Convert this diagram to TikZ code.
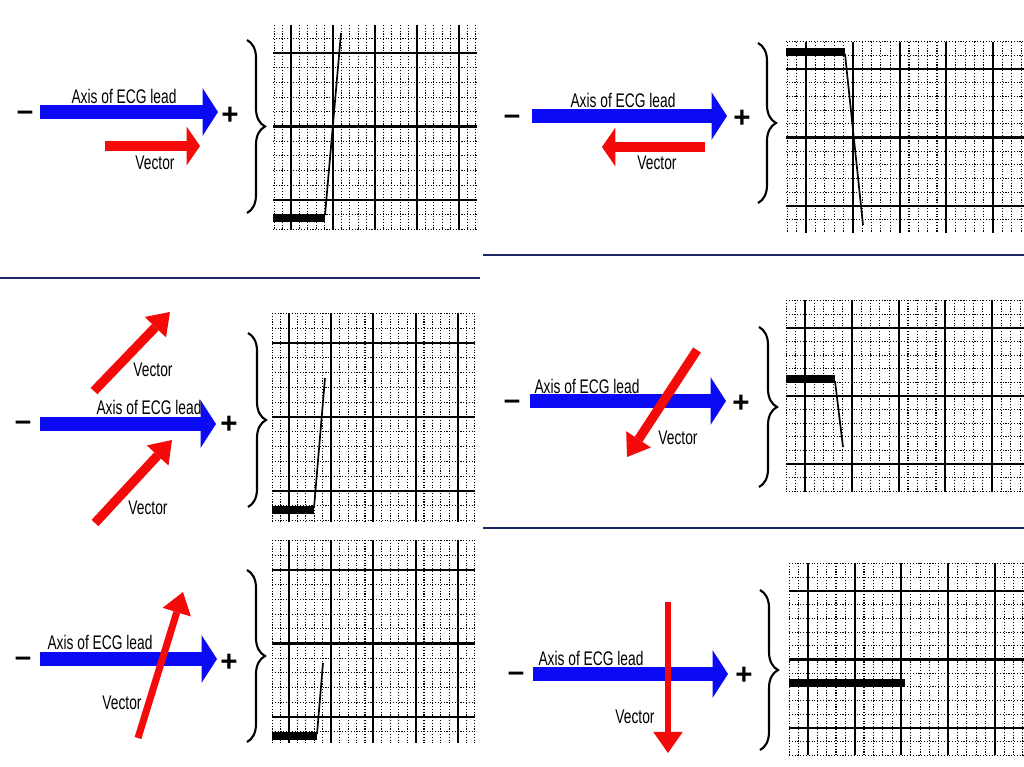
\documentclass[tikz,border=0pt]{standalone}
\usepackage{fontspec}
\setmainfont[FakeStretch=0.7]{Liberation Sans}
\newfontfamily\signfont{Liberation Sans}
\usetikzlibrary{arrows.meta,decorations.pathreplacing}
\definecolor{leadblue}{RGB}{10,10,245}
\definecolor{vecred}{RGB}{245,10,10}
\definecolor{rulenavy}{RGB}{28,38,100}

% ECG paper: left, top, right, bottom, first major x, first major y, major step x, major step y
\newcommand\ecggrid[8]{%
  \begin{scope}
    \clip (#1,#2) rectangle (#3,#4);
    \foreach \k in {-5,...,30}
      \draw[minorline] ({#5+\k*#7/5},#2) -- ({#5+\k*#7/5},#4);
    \foreach \k in {-5,...,20}
      \draw[minorline] (#1,{#6+\k*#8/5}) -- (#3,{#6+\k*#8/5});
    \foreach \k in {-1,...,6}
      \draw[majorline] ({#5+\k*#7},#2) -- ({#5+\k*#7},#4);
    \foreach \k in {-1,...,3}
      \draw[majorline] (#1,{#6+\k*#8}) -- (#3,{#6+\k*#8});
  \end{scope}}

\begin{document}
\begin{tikzpicture}[x=0.025cm,y=-0.025cm,
    lbl/.style={font=\fontsize{14}{15}\selectfont,inner sep=0pt},
    sign/.style={font=\signfont\bfseries\fontsize{21}{21}\selectfont,inner sep=0pt},
    leadarrow/.style={leadblue,line width=10.5pt,
      -{Triangle[length=11pt,width=34pt,line width=0pt]}},
    vecarrow/.style={vecred,line width=7.8pt,
      -{Triangle[length=9.5pt,width=27.6pt,line width=0pt]}},
    tiltarrow/.style={vecred,line width=6.6pt,
      -{Triangle[length=15pt,width=21pt,line width=0pt]}},
    ecgbrace/.style={decorate,decoration={brace,amplitude=12.8pt},line width=1.5pt},
    minorline/.style={line width=0.8pt,dash pattern=on 0.8pt off 1.2pt},
    majorline/.style={line width=1.5pt},
    flatbar/.style={line width=5.5pt},
    trace/.style={line width=1.2pt},
    divider/.style={rulenavy,line width=2.1pt}]
  \path[use as bounding box,fill=white] (0,0) rectangle (1024,767);

  \ecggrid{273}{25}{477}{230}{291}{53}{42}{73.5}
  \draw[leadarrow] (40,112) -- (218,112);
  \node[lbl] (axis1) at (124,96) {Axis of ECG lead};
  \node[sign] (minus1) at (25,116) {–};
  \node[sign] (plus1) at (230,116) {+};
  \draw[vecarrow] (105,146) -- (200,146);
  \node[lbl] (vec1) at (155,163) {Vector};
  \draw[ecgbrace] (247,40) -- (247,213);
  \draw[flatbar] (273,218) -- (325,218);
  \draw[trace] (325,215) -- (341,33);

  \ecggrid{786}{42}{1024}{233}{806}{69}{46.8}{68.5}
  \draw[leadarrow] (532,116) -- (727,116);
  \node[lbl] (axis2) at (623,100) {Axis of ECG lead};
  \node[sign] (minus2) at (512,120) {–};
  \node[sign] (plus2) at (742,119) {+};
  \draw[vecarrow] (705,147) -- (602,147);
  \node[lbl] (vec2) at (657,163) {Vector};
  \draw[ecgbrace] (758,43) -- (758,203);
  \draw[flatbar] (786,52) -- (845,52);
  \draw[trace] (845,54) -- (863,225);

  \ecggrid{272}{313}{475}{522}{289}{343}{42.2}{74}
  \draw[leadarrow] (40,424) -- (216,424);
  \node[lbl] (axis3) at (149,407) {Axis of ECG lead};
  \node[sign] (minus3) at (23,426) {–};
  \node[sign] (plus3) at (229,425) {+};
  \draw[tiltarrow] (94,391) -- (170,312);
  \node[lbl] (vec3a) at (153,370) {Vector};
  \draw[tiltarrow] (95,523) -- (172,440);
  \node[lbl] (vec3b) at (148,508) {Vector};
  \draw[ecgbrace] (248,333) -- (248,507);
  \draw[flatbar] (272,510) -- (314,510);
  \draw[trace] (314,508) -- (325,378);

  \ecggrid{786}{300}{1024}{492}{805}{328}{46.8}{68}
  \draw[leadarrow] (530,401) -- (726,401);
  \node[lbl] (axis4) at (587,386) {Axis of ECG lead};
  \node[sign] (minus4) at (512,405) {–};
  \node[sign] (plus4) at (741,404) {+};
  \draw[tiltarrow] (697,350) -- (627,457);
  \node[lbl] (vec4) at (678,438) {Vector};
  \draw[ecgbrace] (759,327) -- (759,487);
  \draw[flatbar] (786,379) -- (835,379);
  \draw[trace] (835,381) -- (843,447);

  \ecggrid{272}{540}{475}{743}{289}{570}{42.2}{73.5}
  \draw[leadarrow] (40,659) -- (217,659);
  \node[lbl] (axis5) at (100,642) {Axis of ECG lead};
  \node[sign] (minus5) at (23,662) {–};
  \node[sign] (plus5) at (229,663) {+};
  \draw[tiltarrow,line width=5pt] (138,738) -- (183,592);
  \node[lbl] (vec5) at (122,703) {Vector};
  \draw[ecgbrace] (247,570) -- (247,742);
  \draw[flatbar] (272,736) -- (317,736);
  \draw[trace] (317,734) -- (323,663);

  \ecggrid{789}{563}{1024}{755}{808}{591}{46.7}{68.5}
  \draw[leadarrow] (533,674) -- (728,674);
  \node[lbl] (axis6) at (591,658) {Axis of ECG lead};
  \node[sign] (minus6) at (516,677) {–};
  \node[sign] (plus6) at (744,676) {+};
  \draw[tiltarrow,line width=4.5pt] (668,602) -- (668,753);
  \node[lbl] (vec6) at (635,717) {Vector};
  \draw[ecgbrace] (760,590) -- (760,750);
  \draw[flatbar] (789,683) -- (905,683);

  \draw[divider] (0,278) -- (480,278);
  \draw[divider] (483,255) -- (1024,255);
  \draw[divider] (483,528) -- (1024,528);
\end{tikzpicture}
\end{document}
